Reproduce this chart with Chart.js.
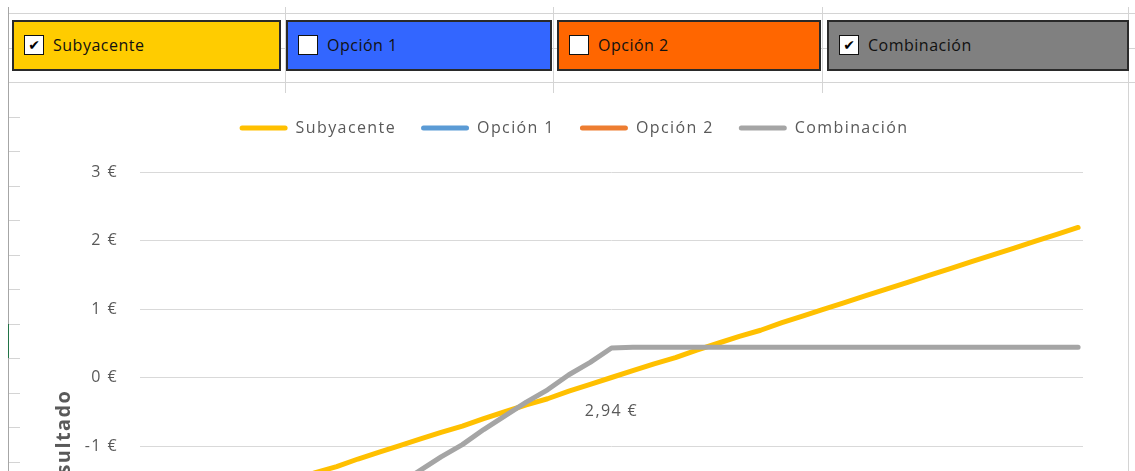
<!DOCTYPE html>
<html>
<head>
<meta charset="utf-8">
<script src="https://cdn.jsdelivr.net/npm/chart.js@4"></script>
<style>
  html, body { margin: 0; padding: 0; }
  body { width: 1135px; height: 471px; overflow: hidden; position: relative; background: #fff; font-family: "Open Sans", sans-serif; }
  .hl { position: absolute; height: 1px; background: #d4d4d4; }
  .vl { position: absolute; width: 1px; background: #d4d4d4; }
  .caja { position: absolute; top: 20px; height: 51px; box-sizing: border-box; border: 2px solid #2a2a2a; }
  .caja .marca { position: absolute; left: 10px; top: 13px; width: 18px; height: 18px; background: #fff; border: 1px solid #111;
                 font: bold 14px "DejaVu Sans", sans-serif; line-height: 18px; text-align: center; color: #000; }
  .caja .texto { position: absolute; left: 39px; top: 0; line-height: 47px; font-size: 16px; letter-spacing: 0.5px; color: #111; }
  #marco { position: absolute; left: 20px; top: 93px; width: 1108px; height: 690px; background: #fff; }
</style>
</head>
<body>
<div id="hoja"></div>
<div id="marco"><canvas id="grafico"></canvas></div>

<script>
// precio del subyacente (eje X)
const precios = [0.75, 0.85, 0.95, 1.05, 1.15, 1.25, 1.35, 1.45, 1.55, 1.65, 1.75, 1.85, 1.95, 2.04, 2.14,
                 2.24, 2.34, 2.44, 2.54, 2.64, 2.74, 2.84, 2.94, 3.04, 3.14, 3.24, 3.34, 3.44, 3.54, 3.64,
                 3.74, 3.84, 3.93, 4.03, 4.13, 4.23, 4.33, 4.43, 4.53, 4.63, 4.73, 4.83, 4.93, 5.03, 5.13];

// resultado de cada serie
const subyacente = [-2.19, -2.09, -1.98, -1.89, -1.79, -1.70, -1.59, -1.49, -1.39, -1.30, -1.19, -1.09, -0.99, -0.90, -0.80,
                    -0.71, -0.60, -0.50, -0.40, -0.31, -0.20, -0.10, 0.00, 0.10, 0.20, 0.29, 0.40, 0.50, 0.60, 0.69,
                    0.80, 0.90, 0.99, 1.09, 1.19, 1.29, 1.39, 1.49, 1.59, 1.69, 1.79, 1.89, 1.99, 2.09, 2.19];
const opcion1 = [];   // casilla desmarcada
const opcion2 = [];   // casilla desmarcada
const combinacion = [-3.94, -3.74, -3.52, -3.34, -3.14, -2.96, -2.74, -2.54, -2.34, -2.16, -1.94, -1.74, -1.54, -1.36, -1.16,
                     -0.98, -0.76, -0.56, -0.36, -0.18, 0.04, 0.22, 0.43, 0.44, 0.44, 0.44, 0.44, 0.44, 0.44, 0.44,
                     0.44, 0.44, 0.44, 0.44, 0.44, 0.44, 0.44, 0.44, 0.44, 0.44, 0.44, 0.44, 0.44, 0.44, 0.44];

const nombres = ["Subyacente", "Opción 1", "Opción 2", "Combinación"];
const colores = ["#FFC000", "#5B9BD5", "#ED7D31", "#A5A5A5"];
const casillas = [true, false, false, true];
const fondosCasilla = ["#FFCC00", "#3366FF", "#FF6600", "#808080"];

const ejeYMin = -5, ejeYMax = 3;
const precioEjercicio = 2.94, etiquetaEjercicio = "2,94 €", alturaEtiqueta = -0.5;

// --- fondo de hoja de calculo y casillas ---
const hoja = document.getElementById("hoja");
function linea(cls, css) {
    const d = document.createElement("div");
    d.className = cls;
    Object.assign(d.style, css);
    hoja.appendChild(d);
}
for (let k = 0; k < 14; k++) {
    const y = Math.round(13 + 34.5 * k) + "px";
    if (k < 3) linea("hl", { left: "8px", width: "1127px", top: y });
    else linea("hl", { left: "8px", width: "12px", top: y });
}
[285, 553, 822].forEach(x => linea("vl", { left: x + "px", top: "7px", height: "86px" }));
linea("vl", { left: "1128px", top: "7px", height: "464px" });
linea("vl", { left: "8px", top: "7px", height: "464px", background: "#a6a6a6" });
linea("vl", { left: "8px", top: "324px", height: "34px", background: "#217346" });

const cajas = [[12, 269], [286, 266], [557, 264], [827, 302]];
nombres.forEach((n, i) => {
    const c = document.createElement("div");
    c.className = "caja";
    c.style.left = cajas[i][0] + "px";
    c.style.width = cajas[i][1] + "px";
    c.style.background = fondosCasilla[i];
    c.innerHTML = '<div class="marca">' + (casillas[i] ? "✔" : "") + '</div><div class="texto">' + n + '</div>';
    hoja.appendChild(c);
});

// --- grafico ---
Chart.defaults.font.family = '"Open Sans", sans-serif';
Chart.defaults.font.size = 16;
Chart.defaults.color = "#595959";

const espaciado = {
    id: "espaciado",
    beforeUpdate(chart) { chart.ctx.letterSpacing = "1.4px"; },
    beforeDraw(chart) { chart.ctx.letterSpacing = "1.4px"; }
};

const rotuloEjercicio = {
    id: "rotuloEjercicio",
    afterDatasetsDraw(chart) {
        const { ctx, scales: { x, y } } = chart;
        ctx.save();
        ctx.font = '16px "Open Sans", sans-serif';
        ctx.fillStyle = "#595959";
        ctx.textAlign = "center";
        ctx.textBaseline = "middle";
        ctx.fillText(etiquetaEjercicio, x.getPixelForValue(precioEjercicio), y.getPixelForValue(alturaEtiqueta));
        ctx.restore();
    }
};

const valores = [subyacente, opcion1, opcion2, combinacion];
const datasets = nombres.map((n, i) => ({
    label: n,
    data: valores[i].map((v, j) => ({ x: precios[j], y: v })),
    borderColor: colores[i],
    backgroundColor: colores[i],
    borderWidth: 5,
    borderCapStyle: "round",
    borderJoinStyle: "round",
    pointRadius: 0,
    tension: 0,
    order: nombres.length - i
}));

new Chart(document.getElementById("grafico"), {
    type: "line",
    data: { datasets },
    plugins: [espaciado, rotuloEjercicio],
    options: {
        responsive: true,
        maintainAspectRatio: false,
        animation: false,
        layout: { padding: { top: 2, bottom: 3, left: 0, right: 0 } },
        plugins: {
            tooltip: { enabled: false },
            legend: {
                position: "top",
                weight: 3000,
                labels: {
                    boxWidth: 48,
                    boxHeight: 5,
                    padding: 25,
                    color: "#595959",
                    font: { size: 16 },
                    sort: (a, b) => a.datasetIndex - b.datasetIndex,
                    generateLabels(chart) {
                        return Chart.defaults.plugins.legend.labels.generateLabels(chart).map(it => ({
                            ...it, fillStyle: it.strokeStyle, lineWidth: 0, hidden: false, borderRadius: 2.5
                        }));
                    }
                }
            },
            // separador vacio entre leyenda y area de trazado
            title: { display: true, text: "", padding: 0, font: { size: 26, lineHeight: 1 } }
        },
        scales: {
            x: {
                type: "linear",
                min: 0.727,
                max: 5.153,
                grid: { display: false },
                border: { display: false },
                ticks: { includeBounds: false, stepSize: 1, callback: v => v + " €" },
                afterFit(s) { s.height = 60; }
            },
            y: {
                min: ejeYMin,
                max: ejeYMax,
                grid: { color: "#D9D9D9", lineWidth: 1, drawTicks: false },
                border: { display: false },
                ticks: { stepSize: 1, padding: 22, color: "#595959", callback: v => v + " €" },
                title: { display: true, text: "Resultado", color: "#595959", font: { size: 20, weight: "bold" }, padding: { top: 32, bottom: 4 } },
                afterFit(s) { s.width = 120; }
            },
            yDer: {
                position: "right",
                min: 0,
                max: 1,
                grid: { display: false },
                border: { display: false },
                ticks: { display: false },
                afterFit(s) { s.width = 45; }
            }
        }
    }
});
</script>
</body>
</html>
